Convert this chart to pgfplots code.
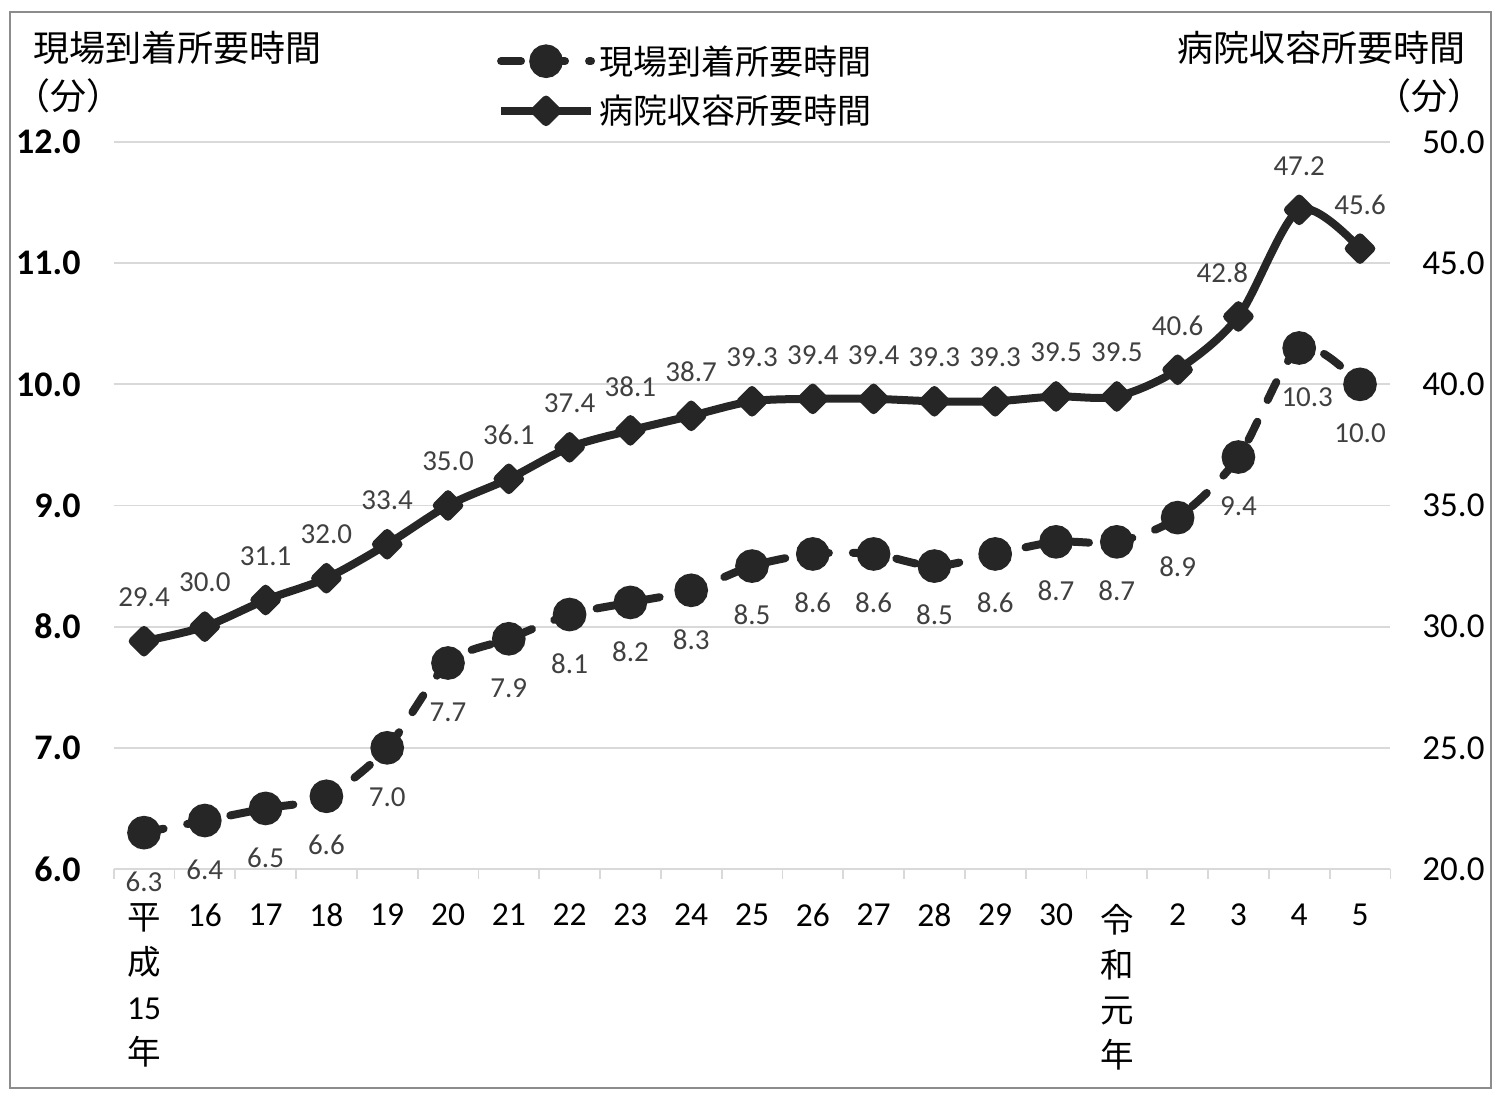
\documentclass[border=0pt]{standalone}
\usepackage{pgfplots}
\pgfplotsset{compat=1.18}
\usepackage{pgfplotstable}
\usepackage{fontspec}
\setmainfont{Carlito}
\newfontfamily\cjk{Noto Sans CJK JP}
\definecolor{lc}{HTML}{262626}
\definecolor{lab}{HTML}{404040}
\definecolor{grd}{HTML}{D9D9D9}
\definecolor{frm}{HTML}{8C8C8C}

\pgfplotstableread{
x genba byoin gdx bdx
0 6.3 29.4 0 0
1 6.4 30.0 0 0
2 6.5 31.1 0 0
3 6.6 32.0 0 0
4 7.0 33.4 0 0
5 7.7 35.0 0 0
6 7.9 36.1 0 0
7 8.1 37.4 0 0
8 8.2 38.1 0 0
9 8.3 38.7 0 0
10 8.5 39.3 0 0
11 8.6 39.4 0 0
12 8.6 39.4 0 0
13 8.5 39.3 0 0
14 8.6 39.3 0 0
15 8.7 39.5 0 0
16 8.7 39.5 0 0
17 8.9 40.6 0 0
18 9.4 42.8 0 -8
19 10.3 47.2 4 0
20 10.0 45.6 0 0
}\data

\pgfplotsset{
  genba/.style={color=lc, line width=4pt, line cap=round, dash pattern=on 10pt off 12pt, smooth, tension=0.5, mark=*, mark size=6.4pt, mark options={solid}},
  byoin/.style={color=lc, line width=4pt, line join=round, smooth, tension=0.5, mark=square*, mark size=4.0pt, mark options={solid, rotate=45}},
  common/.style={
    scale only axis, width=638.4pt, height=363.5pt,
    at={(56.8pt,113.5pt)}, anchor=south west,
    xmin=-0.5, xmax=20.5, clip=false,
    axis line style={draw=none},
    /pgf/number format/fixed,
    /pgf/number format/fixed zerofill,
    /pgf/number format/precision=1,
    /pgf/number format/assume math mode=true,
    legend image code/.code={\draw[mark repeat=2,mark phase=2,##1] plot coordinates {(0pt,0pt) (22.5pt,0pt) (45pt,0pt)};},
  },
}

\begin{document}
\begin{tikzpicture}
\path (0,0) rectangle (752pt,548pt);
\draw[frm, line width=0.9pt] (5pt,4pt) rectangle (745.5pt,542pt);
\node[anchor=west, inner sep=0pt, font=\cjk\fontsize{18}{21}\selectfont] at (16.5pt,524pt) {現場到着所要時間};
\node[anchor=west, inner sep=0pt, font=\cjk\fontsize{18}{21}\selectfont] at (7pt,500pt) {（分）};
\node[anchor=east, inner sep=0pt, font=\cjk\fontsize{18}{21}\selectfont] at (733pt,524pt) {病院収容所要時間};
\node[anchor=east, inner sep=0pt, font=\cjk\fontsize{18}{21}\selectfont] at (742pt,500pt) {（分）};

\begin{axis}[common,
  ymin=6, ymax=12, ytick={6,7,...,12},
  ymajorgrids, grid style={grd, line width=0.9pt},
  xtick={0,...,20},
  xticklabels={{{\cjk 平}\\{\cjk 成}\\15\\{\cjk 年}},16,17,18,19,20,21,22,23,24,25,26,27,28,29,30,{{\cjk 令}\\{\cjk 和}\\{\cjk 元}\\{\cjk 年}},2,3,4,5},
  major tick length=0pt,
  minor xtick={-0.5,0.5,...,20.5}, minor tick length=5pt,
  xtick pos=bottom, ytick pos=left, tick align=outside,
  minor tick style={grd, line width=0.9pt},
  yticklabel style={font=\bfseries\fontsize{18}{21}\selectfont, xshift=-13pt},
  xticklabel style={font=\fontsize{16.75}{22.5}\selectfont, align=center, anchor=north, yshift=-13.9pt},
]
\addplot[genba, nodes near coords, visualization depends on={\thisrow{gdx}\as\mydx},
  every node near coord/.append style={anchor=center, xshift=\mydx pt, yshift=-24.5pt, text=lab, font=\fontsize{14.5}{17}\selectfont}] table[x=x, y=genba] {\data};
\end{axis}

\begin{axis}[common,
  ymin=20, ymax=50, ytick={20,25,...,50},
  hide x axis,
  ytick pos=right, yticklabel pos=right,
  major tick length=0pt,
  yticklabel style={font=\fontsize{17.5}{20}\selectfont, xshift=12.5pt},
  legend style={draw=none, fill=none, at={(0.300,1.077)}, anchor=west, font=\cjk\fontsize{17}{20}\selectfont, inner sep=0pt, row sep=5pt},
  legend cell align=left,
]
\addlegendimage{genba}
\addlegendentry{現場到着所要時間}
\addplot[byoin, nodes near coords, visualization depends on={\thisrow{bdx}\as\mydx},
  every node near coord/.append style={anchor=center, xshift=\mydx pt, yshift=22pt, text=lab, font=\fontsize{14.5}{17}\selectfont}] table[x=x, y=byoin] {\data};
\addlegendentry{病院収容所要時間}
\end{axis}
\end{tikzpicture}
\end{document}
